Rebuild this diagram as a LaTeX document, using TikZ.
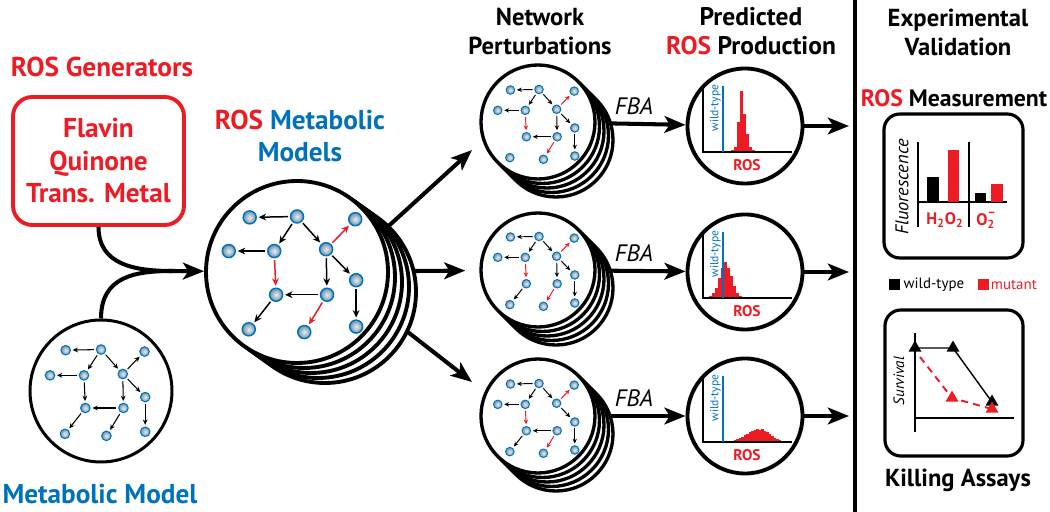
\documentclass[tikz,border=0pt]{standalone}
\usepackage{fontspec}
\setmainfont{PT Sans}
\usepackage{tikz}
\usetikzlibrary{arrows.meta,calc,shapes.geometric,backgrounds,positioning}
\definecolor{mblue}{HTML}{0072BC}
\definecolor{mred}{HTML}{ED1C24}
\tikzstyle{head}=[font=\fontsize{13.5}{16.5}\selectfont\bfseries, align=center, inner sep=0pt]
\tikzstyle{bighead}=[head, font=\fontsize{15.5}{18}\selectfont\bfseries]
\tikzstyle{genbox}=[draw=mred, line width=2.2pt, rounded corners=11pt, minimum width=34.2mm, minimum height=25.6mm, align=center, text=mred, font=\fontsize{15.5}{18.5}\selectfont\bfseries]
\tikzstyle{netc}=[circle, draw=black, fill=white, inner sep=0pt]
\tikzstyle{metnode}=[circle, draw=mblue, inner color=gray!15, outer color=mblue!45!gray!80, inner sep=0pt]
\tikzstyle{metedge}=[-{Stealth[length=0pt 5, width=0pt 4.5]}, shorten >=1pt, shorten <=1pt]
\tikzstyle{bigarrow}=[line width=2.3pt, -{Stealth[length=12pt, width=9.5pt, inset=3pt]}]
\tikzstyle{fba}=[font=\fontsize{13.5}{16}\selectfont\itshape, inner sep=0pt]
\tikzstyle{panel}=[draw=black, line width=1.8pt, rounded corners=9pt]
\tikzstyle{tri}=[regular polygon, regular polygon sides=3, fill, inner sep=0pt, minimum size=3mm]
\tikzstyle{key}=[fill, inner sep=0pt, minimum size=2.2mm]

% network of 12 metabolites: prefix, center, scale, node size, line width, edges
\newcommand{\metnet}[6]{%
  \begin{scope}[shift={#2}, scale=#3]
    \foreach \n/\u/\v in {1/-.52/-.60, 2/0/-.61, 3/.64/-.58, 4/-.75/-.23, 5/-.25/-.23, 6/.32/-.25,
                          7/.65/.09, 8/-.23/.25, 9/.33/.25, 10/-.53/.63, 11/.08/.66, 12/.65/.60}
      \node[metnode, minimum size=#4, line width=#5] (#1\n) at (\u,\v) {};
  \end{scope}
  \foreach \a/\b/\c in {#6}
    \draw[metedge, line width=#5, \c] (#1\a) -- (#1\b);
}
% circle with four copies stacked behind it
\newcommand{\netstack}[5]{%
  \foreach \k in {4,3,2,1}
    \node[netc, line width=#5, minimum size=#3] at ($#2+\k*#4$) {};
  \node[netc, line width=#5, minimum size=#3] (#1) at #2 {};
}
\newcommand{\histo}[3]{%
  \foreach \h [count=\i from 0] in {#3}
    \fill[mred] ({#1+\i*#2},26) rectangle ++(#2,-\h);
}
\newcommand{\predaxes}[1]{%
  \draw[line width=.8pt] (-42,-40) -- (-42,26) -- (47,26);
  \draw[mblue, line width=1pt] (-22,-40) -- (-22,26);
  \node[rotate=90, text=mblue, font=\fontsize{6.6}{6.6}\selectfont, inner sep=0pt] (#1wt) at (-29.5,-18) {wild-type};
  \node[text=mred, font=\fontsize{8.8}{8.8}\selectfont\bfseries, inner sep=0pt] (#1ros) at (2,39) {ROS};
}

\begin{document}
\begin{tikzpicture}[x=0.2mm, y=-0.2mm]
    \useasboundingbox (0,0) rectangle (1050,512);

    % titles
    \node[bighead, text=mred] (gentitle) at (102,67) {ROS Generators};
    \node[bighead] (mmtitle) at (300,136) {\textcolor{mred}{ROS} \textcolor{mblue}{Metabolic}\\\textcolor{mblue}{Models}};
    \node[head, font=\fontsize{14}{16.5}\selectfont\bfseries] (nptitle) at (540,32) {Network\\Perturbations};
    \node[head, font=\fontsize{14.5}{16.5}\selectfont\bfseries] (prtitle) at (751,31) {Predicted\\\textcolor{mred}{ROS} Production};
    \node[head, font=\fontsize{14}{16.5}\selectfont\bfseries] (evtitle) at (958,32) {Experimental\\Validation};
    \node[head] (meastitle) at (954,98) {\textcolor{mred}{ROS} Measurement};
    \node[head, font=\fontsize{14}{16.5}\selectfont\bfseries] (killtitle) at (958,480) {Killing Assays};
    \node[bighead, text=mblue] (mmlabel) at (100,494) {Metabolic Model};

    \node[genbox] (gens) at (98.5,161) {Flavin\\Quinone\\Trans. Metal};

    % base model
    \node[netc, line width=1.7pt, minimum size=28.4mm] (basenet) at (101,391) {};
    \metnet{b}{(101,391)}{68}{1.9mm}{.6pt}{2/1/black, 2/5/black, 2/6/black, 6/3/black, 5/4/black, 5/8/black,
        6/9/black, 6/7/black, 9/8/black, 8/10/black, 9/11/black, 7/12/black}

    % ROS model
    \netstack{bignet}{(297,272)}{36.4mm}{(7,5)}{2.2pt}
    \metnet{r}{(297,272)}{91}{2.6mm}{.85pt}{2/1/black, 2/5/black, 2/6/black, 6/3/mred, 5/4/black, 5/8/mred,
        6/9/black, 6/7/black, 9/8/black, 8/10/black, 9/11/mred, 7/12/black}

    % perturbations
    \netstack{ptop}{(538,122)}{22.8mm}{(4.5,4.5)}{1.9pt}
    \metnet{pa}{(539,123)}{55}{1.7mm}{.55pt}{2/1/black, 2/5/black, 2/6/black, 6/3/mred, 5/4/black, 5/8/mred,
        6/9/black, 6/7/black, 9/8/black, 9/11/mred, 7/12/black}
    \netstack{pmid}{(538,270)}{22.8mm}{(4.5,4.5)}{1.9pt}
    \metnet{pb}{(539,270)}{55}{1.7mm}{.55pt}{2/1/black, 2/5/black, 2/6/black, 6/3/mred, 5/4/black, 5/8/mred,
        6/9/black, 6/7/black, 8/10/black, 9/11/mred, 7/12/black}
    \netstack{pbot}{(538,416)}{22.8mm}{(4.5,4.5)}{1.9pt}
    \metnet{pc}{(539,417)}{55}{1.7mm}{.55pt}{2/1/black, 2/5/black, 2/6/black, 6/3/mred, 5/4/black, 5/8/mred,
        6/7/black, 9/8/black, 8/10/black, 9/11/mred, 7/12/black}

    % predictions
    \node[netc, line width=2.2pt, minimum size=23mm] (prtop) at (745,126) {};
    \node[netc, line width=2.2pt, minimum size=23mm] (prmid) at (745,272) {};
    \node[netc, line width=2.2pt, minimum size=23mm] (prbot) at (745,416) {};
    \begin{scope}[shift={(prtop)}]
        \histo{-14}{3}{2,5,30,61,38,18,5,2}
        \predaxes{pa}
    \end{scope}
    \begin{scope}[shift={(prmid)}]
        \histo{-36}{3}{2,5,10,20,30,36,30,22,12,5,2}
        \predaxes{pb}
    \end{scope}
    \begin{scope}[shift={(prbot)}]
        \histo{-14}{2.5}{1,2,3,4,5,7,8,10,11,12,13,12,13,11,10,8,6,4,3,2,1}
        \predaxes{pc}
    \end{scope}

    \coordinate (merge) at (172,271);
    \coordinate (fanup) at (472,150);
    \coordinate (fandown) at (472,382);
    \coordinate (outa) at (849,126);
    \coordinate (outb) at (849,272);
    \coordinate (outc) at (849,416);
    \begin{scope}[on background layer]
        \draw[line width=2.3pt] (gens.south) .. controls +(0,38) and (135,271) .. (merge);
        \draw[line width=2.3pt] (basenet.north) .. controls +(0,-42) and (135,271) .. (merge);
        \draw[bigarrow] (merge) -- (bignet);
        \draw[bigarrow] (bignet.25) -- (fanup);
        \draw[bigarrow, shorten >=8pt] (bignet) -- (pmid);
        \draw[bigarrow] (bignet.-25) -- (fandown);
        \draw[bigarrow] (ptop) -- node[fba, pos=.42, above=4pt] (fbaa) {FBA} (prtop);
        \draw[bigarrow] (pmid) -- node[fba, pos=.42, above=4pt] (fbab) {FBA} (prmid);
        \draw[bigarrow] (pbot) -- node[fba, pos=.42, above=4pt] (fbac) {FBA} (prbot);
        \draw[bigarrow] (prtop) -- (outa);
        \draw[bigarrow] (prmid) -- (outb);
        \draw[bigarrow] (prbot) -- (outc);
    \end{scope}

    \draw[line width=1.9pt] (855,0) -- (855,512);

    % ROS measurement
    \node[panel, minimum width=27.8mm, minimum height=28.8mm] (measbox) at (953.5,186) {};
    \draw[line width=.9pt] (918,142) -- (918,227) (918,202) -- (1007,202);
    \draw[line width=.6pt] (969,142) -- (969,227);
    \fill (927,202) rectangle (939,177);
    \fill[mred] (948,202) rectangle (959,150);
    \fill (975,202) rectangle (986,193);
    \fill[mred] (991,202) rectangle (1003,184);
    \node[rotate=90, font=\fontsize{10.5}{10.5}\selectfont\itshape, inner sep=0pt] (fluor) at (902,187) {Fluorescence};
    \node[text=mred, font=\fontsize{9.5}{9.5}\selectfont\bfseries, inner sep=0pt] (hhoo) at (945,220) {H\textsubscript{2}O\textsubscript{2}};
    \node[text=mred, font=\fontsize{9.5}{9.5}\selectfont\bfseries, inner sep=0pt] (oo) at (986,220) {O\textsubscript{2}\kern-.45em\raisebox{1.1ex}{\scriptsize--}};

    \node[key] (wtkey) at (894,285) {};
    \node[right=2pt of wtkey, font=\fontsize{8.5}{8.5}\selectfont, inner sep=0pt] (wtlab) {wild-type};
    \node[key, mred] (mutkey) at (983,285) {};
    \node[right=1pt of mutkey, text=mred, font=\fontsize{8.5}{8.5}\selectfont, inner sep=0pt] (mutlab) {mutant};

    % killing assays
    \node[panel, minimum width=27.6mm, minimum height=29.2mm] (killbox) at (954,383) {};
    \draw[line width=.9pt] (915,333) -- (915,432) (915,418) -- (1014,418);
    \node[tri] (k1) at (915,348) {};
    \node[tri] (k2) at (953,348) {};
    \node[tri] (k3) at (992,402) {};
    \coordinate (m0) at (920,357);
    \node[tri, mred] (m1) at (952,398) {};
    \node[tri, mred] (m2) at (992,409) {};
    \begin{scope}[on background layer]
        \draw[line width=.8pt] (k1.center) -- (k2.center) -- (k3.center);
        \draw[mred, line width=1.1pt, dash pattern=on 4pt off 3pt] (m0) -- (m1.center) -- (m2.center);
    \end{scope}
    \node[rotate=90, font=\fontsize{8.5}{8.5}\selectfont\itshape, inner sep=0pt] (surv) at (899,381) {Survival};
\end{tikzpicture}
\end{document}
